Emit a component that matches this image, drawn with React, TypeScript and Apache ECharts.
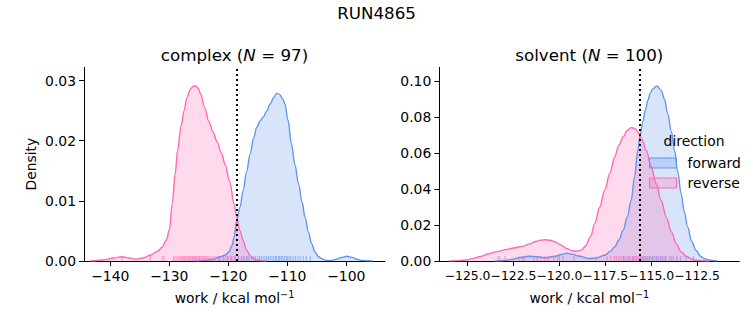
import React, { useEffect, useRef } from 'react';
import * as echarts from 'echarts';

const FWD = '#6495ED';
const REV = '#FF69B4';
const FONT = 'DejaVu Sans';

// complex: KDE curves (x in kcal/mol, density)
const complexForwardX = [-125.5, -124, -122.5, -121.3, -120.5, -119.9, -119.4, -119.0, -118.6, -118.0, -117.5, -116.9, -116.3, -115.7, -115.2, -114.6, -114.1, -113.5, -112.9, -112.3, -111.8, -111.3, -110.8, -110.4, -109.9, -109.3, -108.7, -108.1, -107.5, -107.0, -106.4, -105.9, -105.3, -104.7, -104.0, -103.3, -102.5, -101.7, -100.8, -99.9, -99.0, -98.2, -97.3, -96.3, -95.5];
const complexForwardY = [0, 0.0001, 0.0003, 0.0007, 0.001, 0.0015, 0.0025, 0.004, 0.0067, 0.009, 0.0117, 0.0148, 0.0178, 0.0205, 0.0222, 0.0233, 0.0239, 0.0249, 0.0261, 0.0272, 0.0279, 0.0277, 0.027, 0.0261, 0.0235, 0.0195, 0.016, 0.0128, 0.0098, 0.0073, 0.0048, 0.0029, 0.0015, 0.0007, 0.0003, 0.0001, 0.0001, 0.0003, 0.0006, 0.0008, 0.0006, 0.0003, 0.0001, 0.00003, 0];
const complexReverseX = [-143.5, -142.5, -141, -139.5, -138.0, -136.8, -135.7, -134.5, -133.2, -132.0, -131.2, -130.5, -130.0, -129.5, -129.0, -128.6, -128.0, -127.5, -127.0, -126.4, -125.9, -125.5, -125.1, -124.7, -124.0, -123.3, -122.6, -121.9, -121.2, -120.5, -119.8, -119.0, -118.6, -118.0, -117.5, -116.9, -116.3, -115.7, -115.2, -114.5, -113.5];
const complexReverseY = [0, 0.00005, 0.0002, 0.0005, 0.0007, 0.0005, 0.0003, 0.0005, 0.00095, 0.0016, 0.0023, 0.0035, 0.0051, 0.0095, 0.0145, 0.0184, 0.0225, 0.025, 0.0272, 0.0286, 0.0291, 0.0291, 0.0287, 0.0278, 0.0255, 0.0232, 0.0215, 0.0198, 0.018, 0.016, 0.0133, 0.0095, 0.0073, 0.005, 0.0034, 0.0018, 0.0009, 0.0004, 0.0002, 0.00005, 0];

// solvent: KDE curves
const solventForwardX = [-123.5, -123.0, -122.6, -122.2, -121.67, -121.2, -120.76, -120.22, -119.9, -119.59, -119.3, -118.95, -118.4, -118.0, -117.53, -117.25, -116.99, -116.75, -116.53, -116.3, -116.09, -115.9, -115.73, -115.6, -115.46, -115.32, -115.18, -115.05, -114.91, -114.69, -114.45, -114.28, -114.1, -113.9, -113.73, -113.55, -113.37, -113.2, -113.01, -112.8, -112.56, -112.3, -112.1, -111.8, -111.4];
const solventForwardY = [0, 0.0003, 0.0009, 0.0018, 0.0026, 0.0024, 0.0018, 0.0026, 0.0036, 0.0044, 0.0038, 0.0028, 0.0014, 0.0016, 0.0032, 0.0052, 0.0078, 0.0118, 0.017, 0.0245, 0.0337, 0.047, 0.0615, 0.07, 0.0772, 0.0837, 0.0893, 0.0932, 0.0957, 0.0972, 0.0948, 0.09, 0.0818, 0.072, 0.0615, 0.0495, 0.0374, 0.0275, 0.0189, 0.011, 0.0059, 0.0025, 0.0013, 0.0004, 0];
const solventReverseX = [-126.0, -125.5, -125.0, -124.75, -124.3, -123.84, -123.4, -122.93, -122.5, -122.03, -121.6, -121.3, -121.0, -120.76, -120.5, -120.22, -119.9, -119.59, -119.3, -119.04, -118.8, -118.59, -118.3, -118.08, -117.8, -117.53, -117.25, -116.99, -116.75, -116.53, -116.3, -116.09, -115.9, -115.73, -115.5, -115.27, -115.0, -114.73, -114.45, -114.18, -113.9, -113.64, -113.37, -113.1, -112.8, -112.56, -112.2, -111.8];
const solventReverseY = [0, 0.0002, 0.0007, 0.0013, 0.0025, 0.004, 0.0052, 0.0063, 0.0072, 0.0081, 0.0095, 0.0108, 0.0116, 0.0118, 0.0115, 0.0106, 0.0088, 0.0068, 0.0057, 0.0054, 0.0062, 0.0082, 0.0135, 0.0207, 0.03, 0.0393, 0.0488, 0.0578, 0.0645, 0.0689, 0.0725, 0.0741, 0.0737, 0.0717, 0.0675, 0.0615, 0.0525, 0.043, 0.0335, 0.0244, 0.0163, 0.0096, 0.0052, 0.0026, 0.0011, 0.0004, 0.0001, 0];

// rug samples (estimated)
const complexForwardRug = [-121.5, -120.8, -120.2, -119.5, -118.9, -118.3, -117.8, -117.3, -116.9, -116.5, -116.1, -115.7, -115.4, -115.0, -114.7, -114.4, -114.1, -113.8, -113.5, -113.2, -112.9, -112.6, -112.3, -112.0, -111.8, -111.5, -111.3, -111.0, -110.8, -110.5, -110.2, -110.0, -109.7, -109.4, -109.0, -108.6, -108.2, -107.8, -107.3, -106.8, -106.1];
const complexReverseRug = [-138.0, -133.2, -131.2, -130.9, -129.3, -129.0, -128.7, -128.5, -128.2, -128.0, -127.8, -127.6, -127.4, -127.2, -127.0, -126.8, -126.6, -126.5, -126.3, -126.1, -126.0, -125.8, -125.6, -125.5, -125.3, -125.1, -124.9, -124.8, -124.6, -124.4, -124.2, -124.0, -123.8, -123.6, -123.4, -123.1, -122.8, -122.5, -122.2, -121.9, -121.6, -121.2, -120.8, -120.4, -120.0, -119.6, -119.2, -118.8, -118.2, -117.5, -116.8];
const solventForwardRug = [-122.0, -121.2, -120.0, -119.8, -119.2, -116.5, -116.2, -116.0, -115.8, -115.6, -115.5, -115.4, -115.3, -115.2, -115.1, -115.0, -114.9, -114.8, -114.7, -114.6, -114.5, -114.4, -114.3, -114.2, -114.0, -113.8, -113.6, -113.4, -113.1, -112.7];
const solventReverseRug = [-123.35, -123.25, -122.97, -122.2, -121.9, -121.4, -121.0, -120.8, -120.6, -120.3, -120.1, -118.0, -117.4, -117.2, -117.0, -116.9, -116.8, -116.7, -116.6, -116.5, -116.4, -116.3, -116.2, -116.1, -116.0, -115.95, -115.9, -115.8, -115.7, -115.6, -115.5, -115.4, -115.3, -115.1, -114.9, -114.7, -114.4, -114.2, -113.9, -113.6];

const complexDeltaG = -118.5;
const solventDeltaG = -115.63;

const complexXTicks = [-140, -130, -120, -110, -100];
const solventXTicks = [-125, -122.5, -120, -117.5, -115, -112.5];
const complexYTicks = [0, 0.01, 0.02, 0.03];
const solventYTicks = [0, 0.02, 0.04, 0.06, 0.08, 0.1];

const zip = (xs: number[], ys: number[]) => xs.map((x, i) => [x, ys[i]]);
const minus = (s: string) => s.replace('-', '\u2212');

const fmtInt = (v: number) => minus(String(Math.round(v)));
const fmt1 = (v: number) => minus(v.toFixed(1));
const fmt2 = (v: number) => v.toFixed(2);

const tickColor = '#000';

function xAxisCfg(grid: number, min: number, max: number, ticks: number[], fmt: (v: number) => string, labelSize: number) {
  return {
    gridIndex: grid,
    type: 'value',
    min,
    max,
    axisLine: { show: true, onZero: false, lineStyle: { color: tickColor, width: 1 } },
    axisTick: { show: true, length: 5, customValues: ticks, lineStyle: { color: tickColor, width: 1 } },
    axisLabel: { customValues: ticks, formatter: fmt, margin: 8, color: '#000', fontSize: labelSize, fontFamily: FONT, showMinLabel: true, showMaxLabel: true, hideOverlap: false },
    splitLine: { show: false },
    name: '{n|work / kcal mol}{s|\u22121}',
    nameLocation: 'middle',
    nameGap: 28,
    nameTextStyle: {
      rich: {
        n: { fontSize: 13.9, fontFamily: FONT, color: '#000', lineHeight: 18 },
        s: { fontSize: 9.7, fontFamily: FONT, color: '#000', lineHeight: 10, verticalAlign: 'top' },
      },
    },
  };
}

function yAxisCfg(grid: number, max: number, ticks: number[], name: string) {
  return {
    gridIndex: grid,
    type: 'value',
    min: 0,
    max,
    axisLine: { show: true, onZero: false, lineStyle: { color: tickColor, width: 1 } },
    axisTick: { show: true, length: 5, customValues: ticks, lineStyle: { color: tickColor, width: 1 } },
    axisLabel: { customValues: ticks, formatter: fmt2, margin: 8, color: '#000', fontSize: 13.9, fontFamily: FONT, showMinLabel: true, showMaxLabel: true },
    splitLine: { show: false },
    name,
    nameLocation: 'middle',
    nameGap: 46,
    nameTextStyle: { fontSize: 13.9, fontFamily: FONT, color: '#000' },
  };
}

function kde(name: string, grid: number, xs: number[], ys: number[], color: string, dg?: number) {
  const s: any = {
    name,
    type: 'line',
    xAxisIndex: grid,
    yAxisIndex: grid,
    data: zip(xs, ys),
    smooth: 0.35,
    smoothMonotone: 'x',
    showSymbol: false,
    symbol: 'none',
    lineStyle: { color, width: 1.4 },
    itemStyle: { color },
    areaStyle: { color, opacity: 0.25 },
    z: 2,
  };
  if (dg !== undefined) {
    s.markLine = {
      silent: true,
      symbol: ['none', 'none'],
      label: { show: false },
      lineStyle: { color: '#000', type: [2, 3], width: 2 },
      data: [{ xAxis: dg }],
      z: 10,
    };
  }
  return s;
}

function rug(name: string, grid: number, xs: number[], color: string) {
  return {
    name,
    type: 'scatter',
    xAxisIndex: grid,
    yAxisIndex: grid,
    data: xs.map((x) => [x, 0]),
    symbol: 'rect',
    symbolSize: [1.2, 5],
    symbolOffset: [0, -2.5],
    itemStyle: { color, opacity: 0.55 },
    z: 3,
    silent: true,
  };
}

export default function App() {
  const ref = useRef<HTMLDivElement>(null);
  useEffect(() => {
    if (!ref.current) return;
    const chart = echarts.init(ref.current, undefined, { renderer: 'svg' });
    const titleRich = {
      a: { fontSize: 16.7, fontFamily: FONT, color: '#000' },
      i: { fontSize: 16.7, fontFamily: FONT, color: '#000', fontStyle: 'italic' },
    };
    chart.setOption({
      animation: false,
      backgroundColor: '#fff',
      grid: [
        { left: 84, top: 67.3, width: 301, height: 193.7 },
        { left: 439.3, top: 67.3, width: 300, height: 193.7 },
      ],
      xAxis: [
        xAxisCfg(0, -144.46, -93.44, complexXTicks, fmtInt, 13.9),
        xAxisCfg(1, -126.54, -110.2, solventXTicks, fmt1, 12.4),
      ],
      yAxis: [
        yAxisCfg(0, 0.0322, complexYTicks, 'Density'),
        yAxisCfg(1, 0.1076, solventYTicks, ''),
      ],
      legend: {
        data: [
          { name: 'forward', icon: 'rect', itemStyle: { color: 'rgba(100,149,237,0.25)', borderColor: FWD, borderWidth: 1 } },
          { name: 'reverse', icon: 'rect', itemStyle: { color: 'rgba(255,105,180,0.25)', borderColor: REV, borderWidth: 1 } },
        ],
        orient: 'vertical',
        left: 649,
        top: 156,
        itemWidth: 27,
        itemHeight: 10,
        itemGap: 6,
        selectedMode: false,
        padding: 0,
        textStyle: { fontSize: 13.9, fontFamily: FONT, color: '#000', padding: [0, 0, 0, 6] },
      },
      graphic: [
        { type: 'text', x: 376.5, y: 13, style: { text: 'RUN4865', font: `16.7px "${FONT}"`, fill: '#000', align: 'center', verticalAlign: 'middle' } },
        { type: 'text', x: 234.5, y: 54.5, style: { text: '{a|complex (}{i|N}{a| = 97)}', rich: titleRich, align: 'center', verticalAlign: 'middle' } },
        { type: 'text', x: 589.3, y: 54.5, style: { text: '{a|solvent (}{i|N}{a| = 100)}', rich: titleRich, align: 'center', verticalAlign: 'middle' } },
        { type: 'text', x: 694, y: 141, z: 20, style: { text: 'direction', font: `13.9px "${FONT}"`, fill: '#000', align: 'center', verticalAlign: 'middle' } },
      ],
      series: [
        kde('forward', 0, complexForwardX, complexForwardY, FWD),
        kde('reverse', 0, complexReverseX, complexReverseY, REV, complexDeltaG),
        rug('forward rug', 0, complexForwardRug, FWD),
        rug('reverse rug', 0, complexReverseRug, REV),
        kde('forward', 1, solventForwardX, solventForwardY, FWD),
        kde('reverse', 1, solventReverseX, solventReverseY, REV, solventDeltaG),
        rug('forward rug', 1, solventForwardRug, FWD),
        rug('reverse rug', 1, solventReverseRug, REV),
      ],
    });
    return () => chart.dispose();
  }, []);
  return <div ref={ref} style={{ position: 'absolute', left: 0, top: 0, width: 753, height: 325 }} />;
}
